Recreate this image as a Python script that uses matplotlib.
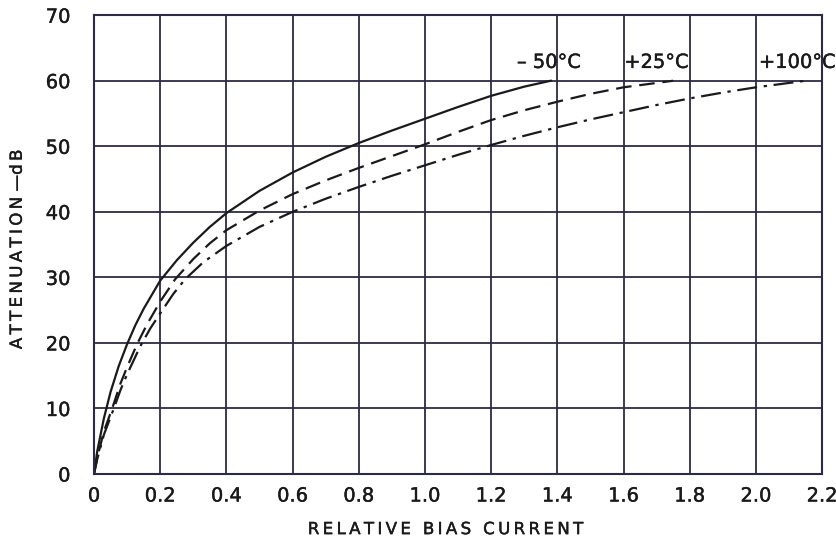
import matplotlib
matplotlib.use("Agg")
import matplotlib.pyplot as plt
import matplotlib.patheffects as pe

# -50 C curve (solid)
x_cold = [0, 0.01, 0.03, 0.05, 0.075, 0.1, 0.125, 0.15, 0.2, 0.25, 0.3, 0.35, 0.4,
          0.5, 0.6, 0.7, 0.8, 0.9, 1.0, 1.1, 1.2, 1.3, 1.38]
y_cold = [0, 3.5, 8.5, 12.5, 16.5, 19.8, 22.7, 25.2, 29.5, 32.6, 35.3, 37.7, 39.8,
          43.2, 46, 48.4, 50.5, 52.4, 54.2, 56, 57.7, 59.1, 60]

# +25 C curve (dashed)
x_room = [0, 0.01, 0.03, 0.055, 0.08, 0.1, 0.13, 0.16, 0.2, 0.245, 0.3, 0.35, 0.4,
          0.5, 0.6, 0.7, 0.8, 0.9, 1.0, 1.1, 1.2, 1.3, 1.4, 1.5, 1.6, 1.75]
y_room = [0, 2.5, 6.5, 10, 13.8, 16.3, 19.8, 22.8, 26.3, 29.7, 32.8, 35.2, 37.2,
          40.2, 42.7, 44.8, 46.7, 48.5, 50.3, 52.2, 54, 55.5, 56.8, 58, 59, 60]

# +100 C curve (dash-dot)
x_hot = [0, 0.01, 0.03, 0.06, 0.08, 0.1, 0.14, 0.17, 0.2, 0.24, 0.275, 0.33, 0.4,
         0.5, 0.6, 0.7, 0.8, 0.9, 1.0, 1.1, 1.2, 1.3, 1.4, 1.5, 1.6, 1.7, 1.8, 1.9, 2.0, 2.15]
y_hot = [0, 2.3, 6, 10, 12.8, 15.2, 19.5, 22.2, 24.5, 27.5, 29.7, 32.3, 34.8,
         37.7, 40, 42, 43.8, 45.5, 47.1, 48.7, 50.2, 51.6, 52.9, 54.1, 55.2, 56.3, 57.3, 58.2, 59, 60]

labels = ["\u2013 50\u00b0C", "+25\u00b0C", "+100\u00b0C"]
label_x = [1.375, 1.70, 2.125]
label_y = 62.8

xticks = [0, 0.2, 0.4, 0.6, 0.8, 1.0, 1.2, 1.4, 1.6, 1.8, 2.0, 2.2]
xticklabels = ["0", "0.2", "0.4", "0.6", "0.8", "1.0", "1.2", "1.4", "1.6", "1.8", "2.0", "2.2"]
yticks = [0, 10, 20, 30, 40, 50, 60, 70]

plt.rcParams['font.family'] = ['DejaVu Sans']


def spaced(s):
    # a bit of letter spacing, like the stencil lettering
    return "\u2009".join(s)


ink = "#1a1a1a"
gridc = "#2b2b45"
heavy = [pe.withStroke(linewidth=0.3, foreground=ink)]  # medium-weight lettering

fig = plt.figure(figsize=(8.36, 5.43), dpi=100)
ax = fig.add_axes([0.1124, 0.127, 0.871, 0.845])

ax.plot(x_cold, y_cold, color=ink, lw=1.6)
ax.plot(x_room, y_room, color=ink, lw=1.6, dashes=(7, 3.5))
ax.plot(x_hot, y_hot, color=ink, lw=1.6, dashes=(9, 3, 1.5, 3))

for t, lx in zip(labels, label_x):
    ax.text(lx, label_y, t, ha="center", va="center", fontsize=14,
            color=ink, clip_on=False, path_effects=heavy)

ax.set_xlim(0, 2.2)
ax.set_ylim(0, 70)
ax.set_xticks(xticks)
ax.set_xticklabels(xticklabels)
ax.set_yticks(yticks)
ax.grid(True, color=gridc, lw=1.3)
ax.set_axisbelow(True)
for s in ax.spines.values():
    s.set_color(gridc)
    s.set_linewidth(1.5)
ax.tick_params(axis="both", length=0, labelsize=14, colors=ink)
ax.tick_params(axis="x", pad=9)
ax.tick_params(axis="y", pad=17)
for lab in ax.get_xticklabels() + ax.get_yticklabels():
    lab.set_path_effects(heavy)

ax.set_xlabel(spaced("RELATIVE BIAS CURRENT"), fontsize=12, color=ink, path_effects=heavy)
ax.set_ylabel(spaced("ATTENUATION") + " \u2014" + spaced("dB"), fontsize=12, color=ink,
              path_effects=heavy)
ax.xaxis.set_label_coords(0.483, -0.12)
ax.yaxis.set_label_coords(-0.106, 0.49)
ax.xaxis.label.set_va("center")
ax.yaxis.label.set_va("center")

fig.savefig("out.png", dpi=100)
